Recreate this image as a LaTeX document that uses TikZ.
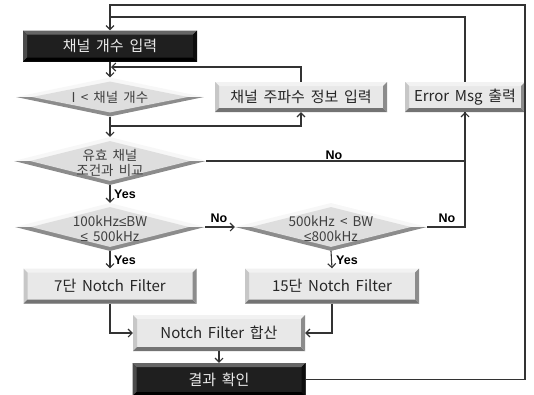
\documentclass[tikz,border=0pt]{standalone}
\usepackage{fontspec}
\newfontfamily\kr[WordSpace=1.7]{Noto Sans CJK KR}
\newfontfamily\lab{Liberation Sans}
\newcommand{\myle}{{\lab ≤}}
\usetikzlibrary{shapes.geometric,arrows.meta,calc}
\tikzset{
  conn/.style={draw=black!80, line width=1.1pt},
  arr/.style={conn, -{Straight Barb[length=4pt,width=8pt]}},
  lbl/.style={font=\lab\bfseries\fontsize{12.5}{13}\selectfont, inner sep=1pt},
  bevel/.style n args={5}{path picture={
    \coordinate (bnw) at (path picture bounding box.north west);
    \coordinate (bne) at (path picture bounding box.north east);
    \coordinate (bsw) at (path picture bounding box.south west);
    \coordinate (bse) at (path picture bounding box.south east);
    \fill[#1] (bnw) rectangle (bse);
    \fill[#2] (bnw) -- (bne) -- ([shift={(-4pt,-4pt)}]bne) -- ([shift={(4pt,-4pt)}]bnw) -- cycle;
    \fill[#3] (bnw) -- ([shift={(4pt,-4pt)}]bnw) -- ([shift={(4pt,4pt)}]bsw) -- (bsw) -- cycle;
    \fill[#4] (bsw) -- (bse) -- ([shift={(-4pt,4pt)}]bse) -- ([shift={(4pt,4pt)}]bsw) -- cycle;
    \fill[#5] (bne) -- (bse) -- ([shift={(-4pt,4pt)}]bse) -- ([shift={(-4pt,-4pt)}]bne) -- cycle;
  }},
  lbox/.style={rectangle, inner sep=0pt, font=\kr\fontsize{15}{17}\selectfont, text=black!85,
    bevel={black!9}{white!95!black}{black!22}{black!55}{black!45}},
  dbox/.style={rectangle, inner sep=0pt, font=\kr\fontsize{15}{17}\selectfont, text=white!92!black,
    bevel={black!88}{black!60}{black!70}{black}{black!95}},
  dtext/.style={align=center, inner sep=0pt, font=\kr\fontsize{13.5}{15}\selectfont, text=black!75},
  dia/.style={diamond, aspect=4, inner sep=0pt,
    path picture={
      \coordinate (dn) at (path picture bounding box.north);
      \coordinate (ds) at (path picture bounding box.south);
      \coordinate (de) at (path picture bounding box.east);
      \coordinate (dw) at (path picture bounding box.west);
      \fill[white!97!black] (dw) -- (dn) -- (de) -- cycle;
      \fill[black!45] (dw) -- (ds) -- (de) -- cycle;
      \fill[black!13] ([shift={(0pt,-4pt)}]dn) -- ([shift={(-16pt,0pt)}]de)
        -- ([shift={(0pt,4pt)}]ds) -- ([shift={(16pt,0pt)}]dw) -- cycle;
    }},
}
\begin{document}
\begin{tikzpicture}[x=1pt,y=-1pt]
\useasboundingbox[fill=white] (0,0) rectangle (534,394);

% boxes
\node[dbox, minimum width=174pt, minimum height=31pt] (inp) at (110,46) {채널 개수 입력};
\node[dia, minimum width=188pt, minimum height=39pt, label={[dtext]center:I < 채널 개수}] (d1) at (110,97) {};
\node[lbox, minimum width=172pt, minimum height=30pt] (freq) at (301,97) {채널 주파수 정보 입력};
\node[lbox, minimum width=120pt, minimum height=30pt] (err) at (465,97) {Error Msg 출력};
\node[dia, minimum width=192pt, minimum height=48pt, label={[dtext, yshift=-2pt]center:유효 채널\\조건과 비교}] (valid) at (110,161) {};
\node[dia, minimum width=190pt, minimum height=48pt, label={[dtext, yshift=-2pt]center:100kHz\myle BW\\\myle{} 500kHz}] (bw1) at (110,227) {};
\node[dia, minimum width=192pt, minimum height=48pt, label={[dtext, yshift=-2pt]center:500kHz < BW\\\myle 800kHz}] (bw2) at (331,227) {};
\node[lbox, minimum width=173pt, minimum height=35pt] (f7) at (110,286) {7단 Notch Filter};
\node[lbox, minimum width=174pt, minimum height=35pt] (f15) at (332,286) {15단 Notch Filter};
\node[lbox, minimum width=172pt, minimum height=36pt] (sum) at (219,333) {Notch Filter 합산};
\node[dbox, minimum width=173pt, minimum height=33pt] (res) at (219,379.5) {결과 확인};

% helper coordinates
\coordinate (b1) at (110,126);
\coordinate (j1) at (111,67);
\coordinate (j2) at (110,17);
\coordinate (tr) at (525,5);

% connectors
\draw[arr] (inp.south) -- (d1.north);
\draw[arr] (d1.south) -- (valid.north);
\draw[arr] (b1) -| (freq.south);
\draw[arr] (freq.north) |- (j1);
\draw[conn] (err.north) |- (j2);
\draw[arr] (res.east) -| (tr) -| (inp.north);
\draw[arr] (valid.east) -| (err.south);
\draw[conn] (bw2.east) -| (err.south);
\draw[arr] (valid.south) -- (bw1.north);
\draw[arr] (bw1.east) -- (bw2.west);
\draw[arr] (bw1.south) -- (f7.north);
\draw[arr] (bw2.south) -- (f15.north);
\draw[arr] (f7.south) |- (sum.west);
\draw[arr] (f15.south) |- (sum.east);
\draw[arr] (sum.south) -- (res.north);

% labels
\node[lbl] (l1) at (334,155) {No};
\node[lbl] (l2) at (447,218) {No};
\node[lbl] (l3) at (219,218) {No};
\node[lbl, anchor=west] (l4) at (113,194) {Yes};
\node[lbl, anchor=west] (l5) at (113,260) {Yes};
\node[lbl, anchor=west] (l6) at (335,260) {Yes};
\end{tikzpicture}
\end{document}
